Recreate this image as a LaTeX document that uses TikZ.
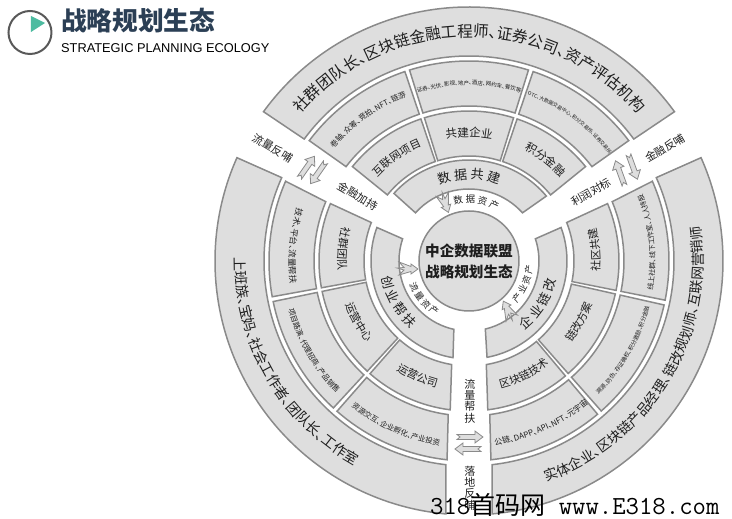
\documentclass[tikz,border=0pt]{standalone}
\usepackage{fontspec}
\usepackage{xcolor}
\usetikzlibrary{decorations.text}
\setsansfont{Liberation Sans}
\newfontfamily\cjk[RawFeature=+palt]{Noto Sans CJK SC}
\definecolor{ink}{HTML}{1E1E1E}
\definecolor{cellgray}{HTML}{DEDEDE}
\definecolor{edgegray}{HTML}{8A8A8A}
\definecolor{titleblue}{HTML}{2B3F55}
\definecolor{playgreen}{HTML}{4DBBA0}
\tikzset{
    cell/.style={draw=edgegray,fill=cellgray,line width=1.5pt},
    corridor/.style={font=\cjk\fontsize{11}{12}\selectfont,text=ink,inner sep=0pt,align=center},
    arrowline/.style={draw=edgegray,fill=cellgray,line width=0.8pt},
    flowarrow/.pic={\path[arrowline] (13,0) -- (5,6) -- (5,2.5) -- (-13,2.5) -- (-10,0) -- (-13,-2.5) -- (5,-2.5) -- (5,-6) -- cycle;},
    handarrow/.pic={\path[arrowline] (10,0) -- (3,5) -- (3,2.5) -- (-9,7) -- (-4,1.5) -- (-11,1) -- (-4,-1) -- (-9,-6) -- (3,-2.5) -- (3,-5) -- cycle;}
}
% rin rout, then the angles of the two ends at rin and at rout
\newcommand{\ringcell}[6]{\draw[cell] (#3:#1) -- (#4:#2) arc[start angle=#4,end angle=#6,radius=#2] -- (#5:#1) arc[start angle=#5,end angle=#3,radius=#1] -- cycle;}
% radius of the baseline, middle angle, size, text
\newcommand{\overlabel}[4]{\path[decorate,decoration={text along path,text align=center,text color=ink,text={|\cjk\fontsize{#3}{#3}\selectfont|#4}}] (#2+65:#1) arc[start angle=#2+65,end angle=#2-65,radius=#1];}
\newcommand{\underlabel}[4]{\path[decorate,decoration={text along path,text align=center,text color=ink,text={|\cjk\fontsize{#3}{#3}\selectfont|#4}}] (#2-65:#1) arc[start angle=#2-65,end angle=#2+65,radius=#1];}

\begin{document}
\begin{tikzpicture}[x=1pt,y=1pt]
        \useasboundingbox (-469,-258) rectangle (263,261);

        % heading
        \draw[line width=2pt,color=black!65] (-439,228.5) circle (21.5);
        \fill[playgreen] (-438,245) -- (-424,238) -- (-438,229) -- cycle;
        \node[anchor=west,inner sep=0pt,text=titleblue,font=\cjk\bfseries\fontsize{25.7}{26}\selectfont] (title) at (-408,240) {战略规划生态};
        \node[anchor=west,inner sep=0pt,text=black,font=\sffamily\fontsize{12.8}{13}\selectfont] (subtitle) at (-408,213) {STRATEGIC PLANNING ECOLOGY};

        % top sector
        \ringcell{205}{254}{143.5}{144}{36.5}{36}
        \ringcell{155}{200}{142.5}{143}{108.7}{108.7}
        \ringcell{155}{200}{107.3}{107.3}{72.7}{72.7}
        \ringcell{155}{200}{71.3}{71.3}{37.5}{37}
        \ringcell{105}{150}{141}{141}{108.7}{108.7}
        \ringcell{105}{150}{107.3}{107.3}{72.7}{72.7}
        \ringcell{105}{150}{71.3}{71.3}{39}{39}
        \ringcell{72}{101}{138}{138}{42}{40}

        % left sector
        \ringcell{205}{254}{156}{156}{263.5}{264.8}
        \ringcell{155}{200}{157.5}{156.5}{190.3}{190.3}
        \ringcell{155}{200}{191.7}{191.7}{227.3}{227.3}
        \ringcell{155}{200}{228.7}{228.7}{262.3}{263.7}
        \ringcell{105}{150}{158.5}{157.5}{190.3}{190.3}
        \ringcell{105}{150}{191.7}{191.7}{227.3}{227.3}
        \ringcell{105}{150}{228.7}{228.7}{260.5}{262.8}
        \ringcell{70}{98}{161.5}{160}{257.5}{260.6}

        % right sector
        \ringcell{205}{254}{-83.5}{-84.8}{24}{24}
        \ringcell{155}{200}{-82.3}{-83.7}{-50}{-50}
        \ringcell{155}{200}{-48.6}{-48.6}{-12.7}{-12.7}
        \ringcell{155}{200}{-11.3}{-11.3}{22.5}{23.5}
        \ringcell{105}{150}{-80.5}{-82.8}{-50}{-50}
        \ringcell{105}{150}{-48.6}{-48.6}{-12.7}{-12.7}
        \ringcell{105}{150}{-11.3}{-11.3}{21.5}{22.5}
        \ringcell{70}{98}{-76.5}{-79.4}{18.5}{20}

        % centre
        \node[cell,circle,minimum size=100pt,inner sep=0pt,align=center,text=ink,font=\cjk\bfseries\fontsize{14.6}{21}\selectfont] (hub) at (0,0) {中企数据联盟\\战略规划生态};

        % text along the rings
        \overlabel{224}{90}{15.6}{社群团队长、区块链金融工程师、证券公司、资产评估机构}
        \underlabel{234}{210}{14}{上班族、宝妈、社会工作者、团队长、工作室}
        \underlabel{234}{329}{13.8}{实体企业、区块链产品经理、链改规划师、互联网营销师}

        \overlabel{176}{125.5}{7.6}{卷轴、众筹、竞拍、NFT、链游}
        \overlabel{176}{90}{5.5}{证券、光伏、影视、地产、酒店、网约车、餐饮等}
        \overlabel{176}{54}{5}{OTC、大数据交易中心、积分交易所、证券交易所}
        \underlabel{180}{175}{8.5}{技术、平台、流量帮扶}
        \underlabel{187}{210}{7.5}{项目路演、代理招商、产品销售}
        \underlabel{187}{246}{7.5}{资源交互、企业孵化、产业投资}
        \underlabel{186}{6}{7}{线上社群、线下工作室、人人持股}
        \underlabel{186}{-30}{5.7}{溯源、防伪、存证确权、积分激励、积分金融}
        \underlabel{186}{-66}{8}{公链、DAPP、API、NFT、元宇宙}

        \overlabel{124}{125}{11}{互联网项目}
        \overlabel{124}{90}{11.5}{共建企业}
        \overlabel{124}{53}{11.5}{积分金融}
        \underlabel{131}{174.5}{11}{社群团队}
        \underlabel{131}{209}{11}{运营中心}
        \underlabel{131}{246}{11}{运营公司}
        \underlabel{131}{5}{11}{社区共建}
        \underlabel{131}{-29}{11}{链改方案}
        \underlabel{131}{-64}{11}{区块链技术}

        \overlabel{82}{90}{13}{数 据 共 建}
        \underlabel{89}{210}{13}{创 业 帮 扶}
        \underlabel{89}{328}{13}{企 业 链 改}
        \overlabel{58}{83}{9.5}{数 据 资 产}
        \underlabel{64}{220}{9}{流 量 资 产}
        \underlabel{64}{337}{9}{产 业 资 产}

        % labels in the gaps
        \node[corridor,rotate=-31] (feedflow) at (-196,113) {流量反哺};
        \node[corridor,rotate=-31] (financeboost) at (-111,65) {金融加持};
        \node[corridor,rotate=30] (profitbench) at (122,69) {利润对标};
        \node[corridor,rotate=30] (feedfinance) at (196,113) {金融反哺};
        \node[corridor,font=\cjk\fontsize{11}{11.3}\selectfont] (flowhelp) at (1,-140) {流\\量\\帮\\扶};
        \node[corridor,font=\cjk\fontsize{11}{11.3}\selectfont] (landfeed) at (1,-227) {落\\地\\反\\哺};

        % arrows
        \pic[rotate=55] at (-162,94) {flowarrow};
        \pic[rotate=235] at (-151,88) {flowarrow};
        \pic[rotate=110] at (151,88) {flowarrow};
        \pic[rotate=-70] at (164,94) {flowarrow};
        \pic[rotate=0] at (1,-176) {flowarrow};
        \pic[rotate=180] at (-1,-188) {flowarrow};
        \pic[rotate=-70] at (-24,58) {handarrow};
        \pic[rotate=0] at (-61,-8) {handarrow};
        \pic[rotate=118] at (39,-49) {handarrow};

        % mark across the lower edge
        \node[anchor=west,inner sep=0pt,text=black,font=\ttfamily\fontsize{26}{26}\selectfont] (webmark) at (-39,-244) {318{\cjk\fontsize{25}{26}\selectfont 首码网}\ www.E318.com};
\end{tikzpicture}
\end{document}
